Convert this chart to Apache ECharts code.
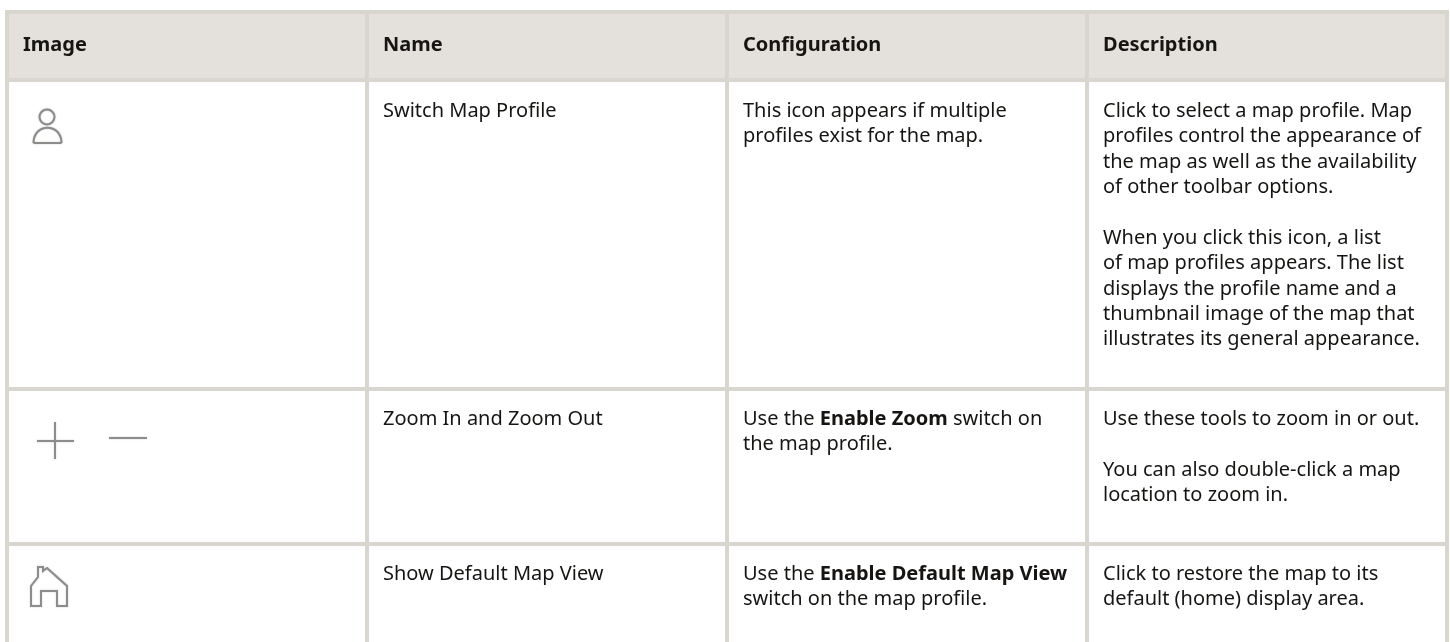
<!DOCTYPE html>
<html><head><meta charset="utf-8">
<style>html,body{margin:0;padding:0;background:#fff}#c{width:1450px;height:642px}</style>
<script src="https://cdn.jsdelivr.net/npm/echarts@6/dist/echarts.min.js"></script>
</head><body><div id="c"></div>
<script>
const headers = ['Image','Name','Configuration','Description'];
const names = ['Switch Map Profile','Zoom In and Zoom Out','Show Default Map View'];
const configurations = [
  ['This icon appears if multiple','profiles exist for the map.'],
  ['Use the {b|Enable Zoom} switch on','the map profile.'],
  ['Use the {b|Enable Default Map View}','switch on the map profile.']
];
const descriptions = [
  ['Click to select a map profile. Map','profiles control the appearance of','the map as well as the availability','of other toolbar options.','','When you click this icon, a list','of map profiles appears. The list','displays the profile name and a','thumbnail image of the map that','illustrates its general appearance.'],
  ['Use these tools to zoom in or out.','','You can also double-click a map','location to zoom in.'],
  ['Click to restore the map to its','default (home) display area.']
];

const FONT = '"Noto Sans","Open Sans",sans-serif', SIZE = 20, LH = 25.4;
const INK = '#161513', LINE = '#d9d5cf', HEAD = '#e4e1dc', ICON = '#8c8c8a';
const colX = [7, 367, 727, 1087, 1447];
const rowY = [12, 80, 389, 544, 660];
const textX = [23, 383, 743, 1103];
const firstLine = [111, 419, 574];

const g = [];
g.push({type:'rect',shape:{x:colX[0],y:rowY[0],width:colX[4]-colX[0],height:rowY[1]-rowY[0]},style:{fill:HEAD},silent:true});
const vline = x => g.push({type:'line',shape:{x1:x,y1:rowY[0]-2,x2:x,y2:642},style:{stroke:LINE,lineWidth:4}});
const hline = y => g.push({type:'line',shape:{x1:colX[0]-2,y1:y,x2:colX[4]+2,y2:y},style:{stroke:LINE,lineWidth:4}});
colX.forEach(vline); rowY.slice(0,4).forEach(hline);

function lines(x, y, arr, weight){
  g.push({type:'text',x:x,y:y-LH/2,style:{
    text:arr.join('\n'),fill:INK,
    fontFamily:FONT,fontSize:SIZE,fontWeight:weight||'normal',
    lineHeight:LH,align:'left',verticalAlign:'top',
    rich:{b:{fontFamily:FONT,fontSize:SIZE,fontWeight:'bold',fill:INK,lineHeight:LH}}
  }});
}
headers.forEach((h,i)=>lines(textX[i],45,[h],'bold'));
names.forEach((n,i)=>{
  lines(textX[1],firstLine[i],[n]);
  lines(textX[2],firstLine[i],configurations[i]);
  lines(textX[3],firstLine[i],descriptions[i]);
});

const st = {stroke:ICON,lineWidth:2,fill:'none',shadowBlur:1.5,shadowColor:'rgba(140,140,138,0.6)'};
const stl = {stroke:ICON,lineWidth:2,shadowBlur:1.5,shadowColor:'rgba(140,140,138,0.6)'};
g.push({type:'circle',shape:{cx:47,cy:117,r:7.5},style:st});
g.push({type:'bezierCurve',shape:{x1:33.5,y1:143,cpx1:33.5,cpy1:122.5,cpx2:61.5,cpy2:122.5,x2:61.5,y2:143},style:st});
g.push({type:'line',shape:{x1:33.5,y1:143,x2:61.5,y2:143},style:stl});
g.push({type:'line',shape:{x1:37,y1:441,x2:74,y2:441},style:stl});
g.push({type:'line',shape:{x1:55,y1:422,x2:55,y2:459},style:stl});
g.push({type:'line',shape:{x1:109,y1:438,x2:147,y2:438},style:stl});
g.push({type:'polygon',shape:{points:[[31,586],[38,577],[38,567],[43,567],[43,571],[47,568],[67,586],[67,606],[57,606],[57,591],[41,591],[41,606],[31,606]]},style:st});

const chart = echarts.init(document.getElementById('c'),null,{renderer:'canvas'});
chart.setOption({animation:false,backgroundColor:'#fff',graphic:{elements:g}});
</script></body></html>
